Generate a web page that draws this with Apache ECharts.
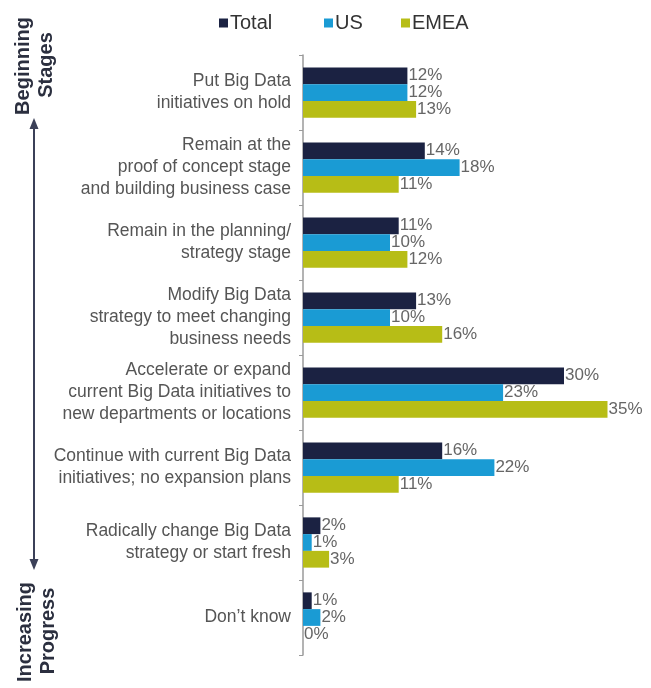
<!DOCTYPE html>
<html>
<head>
<meta charset="utf-8">
<script src="https://cdn.jsdelivr.net/npm/echarts@6/dist/echarts.min.js"></script>
<style>
  html, body { margin: 0; padding: 0; background: #fff; }
  #chart { width: 651px; height: 688px; }
</style>
</head>
<body>
<div id="chart"></div>
<script>
// Planned next steps for Big Data initiatives, share of respondents (%)
const categories = [
  'Put Big Data\ninitiatives on hold',
  'Remain at the\nproof of concept stage\nand building business case',
  'Remain in the planning/\nstrategy stage',
  'Modify Big Data\nstrategy to meet changing\nbusiness needs',
  'Accelerate or expand\ncurrent Big Data initiatives to\nnew departments or locations',
  'Continue with current Big Data\ninitiatives; no expansion plans',
  'Radically change Big Data\nstrategy or start fresh',
  "Don\u2019t know"
];
const seriesNames = ['Total', 'US', 'EMEA'];
const totalValues = [12, 14, 11, 13, 30, 16, 2, 1];
const usValues    = [12, 18, 10, 10, 23, 22, 1, 2];
const emeaValues  = [13, 11, 12, 16, 35, 11, 3, 0];

const colors = ['#1b2242', '#1a9bd4', '#b7bd16'];
const FONT = '"Liberation Sans", Arial, Helvetica, sans-serif';

const chart = echarts.init(document.getElementById('chart'), null, { renderer: 'canvas' });

function barSeries(name, data, color) {
  return {
    name: name,
    type: 'bar',
    data: data,
    barGap: '0%',
    barCategoryGap: '33%',
    itemStyle: { color: color },
    label: {
      show: true,
      position: 'right',
      distance: 1,
      formatter: '{c}%',
      color: '#666',
      fontFamily: FONT,
      fontSize: 17
    }
  };
}

// one legend entry per series so each key sits at its own spot
const legendLeft = [214, 319, 396];
function legendEntry(i) {
  return {
    top: 8,
    left: legendLeft[i],
    icon: 'rect',
    itemWidth: 9,
    itemHeight: 9,
    textStyle: { fontSize: 20, color: '#333', fontFamily: FONT, padding: [0, 0, 0, -3] },
    data: [seriesNames[i]]
  };
}

const arrowColor = '#3b4058';

chart.setOption({
  animation: false,
  textStyle: { fontFamily: FONT },
  legend: [legendEntry(0), legendEntry(1), legendEntry(2)],
  grid: { left: 303, top: 55, width: 350, height: 600, containLabel: false },
  xAxis: {
    type: 'value',
    min: 0,
    max: 40,
    show: false
  },
  yAxis: {
    type: 'category',
    inverse: true,
    data: categories,
    axisLine: { show: true, lineStyle: { color: '#9a9a9a', width: 1.5 } },
    axisTick: { show: true, length: 4, lineStyle: { color: '#9a9a9a' } },
    axisLabel: {
      color: '#555',
      fontSize: 17.5,
      lineHeight: 22,
      margin: 12,
      align: 'right',
      fontFamily: FONT
    }
  },
  series: [
    barSeries(seriesNames[0], totalValues, colors[0]),
    barSeries(seriesNames[1], usValues, colors[1]),
    barSeries(seriesNames[2], emeaValues, colors[2])
  ],
  graphic: [
    // progress direction arrow
    { type: 'line', shape: { x1: 34, y1: 126, x2: 34, y2: 562 },
      style: { stroke: arrowColor, lineWidth: 2 } },
    { type: 'polygon', shape: { points: [[34, 118], [29.5, 129], [38.5, 129]] },
      style: { fill: arrowColor } },
    { type: 'polygon', shape: { points: [[34, 570], [29.5, 559], [38.5, 559]] },
      style: { fill: arrowColor } },
    // end labels of the arrow
    { type: 'text', x: 23, y: 66, rotation: Math.PI / 2,
      style: { text: 'Beginning', x: 0, y: 0, align: 'center', verticalAlign: 'middle',
               fill: '#2b2f3f', font: 'bold 20px ' + FONT } },
    { type: 'text', x: 46, y: 65, rotation: Math.PI / 2,
      style: { text: 'Stages', x: 0, y: 0, align: 'center', verticalAlign: 'middle',
               fill: '#2b2f3f', font: 'bold 20px ' + FONT } },
    { type: 'text', x: 25, y: 632, rotation: Math.PI / 2,
      style: { text: 'Increasing', x: 0, y: 0, align: 'center', verticalAlign: 'middle',
               fill: '#2b2f3f', font: 'bold 20px ' + FONT } },
    { type: 'text', x: 48, y: 631, rotation: Math.PI / 2,
      style: { text: 'Progress', x: 0, y: 0, align: 'center', verticalAlign: 'middle',
               fill: '#2b2f3f', font: 'bold 20px ' + FONT } }
  ]
});
</script>
</body>
</html>
